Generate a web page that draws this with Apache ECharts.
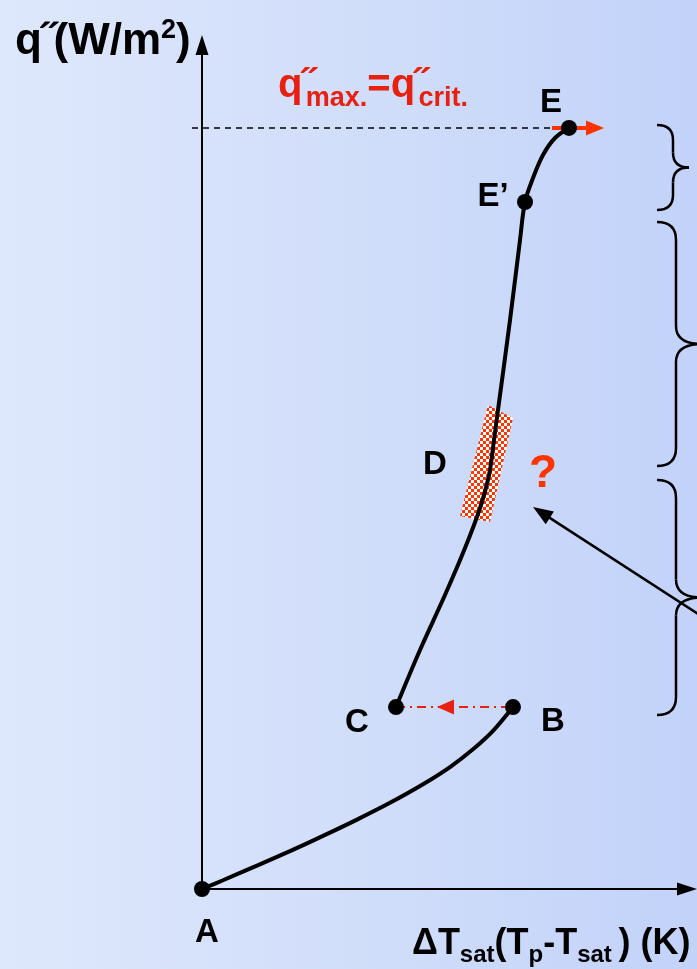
<!DOCTYPE html>
<html><head><meta charset="utf-8">
<script src="https://cdn.jsdelivr.net/npm/echarts@6/dist/echarts.min.js"></script>
<style>html,body{margin:0;padding:0;width:697px;height:969px;overflow:hidden}#c{width:697px;height:969px}</style>
</head><body><div id="c"></div>
<script>
// ---- data: [ΔT_sat, q''] in relative units (0..100 on each axis) ----
const naturalConvection = [[0,0],[4.33,1.04],[11.34,2.77],[18.14,4.49],[24.95,6.29],[31.96,8.22],[38.76,10.21],[45.57,12.41],[51.13,14.45],[55.88,16.55],[60.00,18.73],[64.12,21.56]];
const boilingCurve = [[40.00,21.56],[44.95,28.32],[50.10,34.83],[54.23,40.40],[57.32,45.14],[59.18,49.05],[60.21,53.20],[61.03,56.75],[63.51,67.42],[65.57,76.90],[66.60,81.40],[68.25,84.24],[70.31,86.97],[72.78,88.98],[75.67,90.17]];
const pointNames = ['A','B','C','E\u2019','E'];
const pointCoords = [[0,0],[64.12,21.56],[40.00,21.56],[66.60,81.40],[75.67,90.17]];
const qMaxLine = [[-2.06,90.17],[75.67,90.17]];
const transitionLine = [[40.00,21.56],[64.12,21.56]];
const dryPatch = [[58.97,57.35],[64.12,55.81],[59.38,43.48],[53.20,44.19]];
const dLabel = [48.04,50.24];
const questionMark = [70.31,49.17];
const questionArrow = [[106.8,30.92],[68.25,45.26]];
const critArrow = [[72.16,90.17],[82.89,90.17]];
const transitionArrowHead = [[55.26,21.56],[48.45,21.56]];
const regimeBraces = [[90.52,80.45],[79.03,50.12],[48.46,20.62]];
// ---------------------------------------------------------------

const FONT = '"Liberation Sans", Arial, Helvetica, sans-serif';
const RED = '#e8200f';
const ORANGE = '#ff3300';
const chart = echarts.init(document.getElementById('c'), null, {renderer:'canvas', width:697, height:969});

const pc = document.createElement('canvas'); pc.width = 6; pc.height = 6;
const pg = pc.getContext('2d');
pg.fillStyle = '#ffffff'; pg.fillRect(0,0,6,6);
pg.fillStyle = ORANGE; pg.fillRect(0,0,3,3); pg.fillRect(3,3,3,3);

const mctx = document.createElement('canvas').getContext('2d');
function measure(t, s){ mctx.font = 'bold ' + s + 'px ' + FONT; return mctx.measureText(t).width; }
function textRun(x, baseline, pieces, color){
  const children = []; let cx = x;
  pieces.forEach(function(p){
    const t = p[0], s = p[1], dy = p[2] || 0;
    children.push({type:'text', x:cx, y: baseline - 0.35*s + dy, style:{text:t, font:'bold ' + s + 'px ' + FONT, fill:color, verticalAlign:'middle', align:'left'}});
    cx += measure(t, s) + (p[3] || 0);
  });
  return {type:'group', children: children, z: 20};
}

function arrowSeries(arrows, color, width, headLen, headW, showLine, z, dash){
  return {type:'custom', coordinateSystem:'cartesian2d', clip:false, silent:true, z: z,
    data: arrows.map(function(a){ return [a[0][0],a[0][1],a[1][0],a[1][1]]; }),
    encode: {x:[0,2], y:[1,3]},
    renderItem: function(params, api){
      const p1 = api.coord([api.value(0), api.value(1)]);
      const p2 = api.coord([api.value(2), api.value(3)]);
      const dx = p2[0]-p1[0], dy = p2[1]-p1[1], L = Math.hypot(dx,dy), ux = dx/L, uy = dy/L;
      const bx = p2[0]-ux*headLen, by = p2[1]-uy*headLen;
      const ch = [];
      if (showLine) ch.push({type:'line', shape:{x1:p1[0],y1:p1[1],x2:(headLen ? bx+ux : p2[0]),y2:(headLen ? by+uy : p2[1])}, style:{stroke:color, lineWidth:width, lineDash:dash || null}});
      if (headLen) ch.push({type:'polygon', shape:{points:[[p2[0],p2[1]],[bx-uy*headW/2, by+ux*headW/2],[bx+uy*headW/2, by-ux*headW/2]]}, style:{fill:color}});
      return {type:'group', children: ch};
    }};
}

const labelOffsets = {'A':[5,44], 'B':[40,15], 'C':[-39,16], 'E\u2019':[-32,-5], 'E':[-18,-25]};

const option = {
  animation: false,
  backgroundColor: new echarts.graphic.LinearGradient(0,0,1,0,[{offset:0,color:'#dee8fc'},{offset:0.55,color:'#d0ddfa'},{offset:1,color:'#c2d2f9'}]),
  grid: {left:202, right:10, top:45, bottom:80},
  xAxis: {type:'value', min:0, max:100, axisLine:{show:true, onZero:false, lineStyle:{color:'#000', width:2}, symbol:['none','triangle'], symbolSize:[13,20]}, axisTick:{show:false}, axisLabel:{show:false}, splitLine:{show:false}},
  yAxis: {type:'value', min:0, max:100, axisLine:{show:true, onZero:false, lineStyle:{color:'#000', width:2}, symbol:['none','triangle'], symbolSize:[13,20]}, axisTick:{show:false}, axisLabel:{show:false}, splitLine:{show:false}},
  series: [
    arrowSeries([qMaxLine], '#000', 1.5, 0, 0, true, 2, [6,5]),
    {type:'custom', coordinateSystem:'cartesian2d', clip:false, silent:true, z:3, data:[[dryPatch[0][0],dryPatch[0][1]]],
      renderItem: function(params, api){
        const pts = dryPatch.map(function(p){ return api.coord(p); });
        return {type:'polygon', shape:{points:pts}, style:{fill:{image:pc, repeat:'repeat'}}};
      }},
    arrowSeries([transitionLine], RED, 2, 0, 0, true, 4, [9,5,2,5]),
    arrowSeries([transitionArrowHead], RED, 2, 17, 15, false, 5),
    {type:'line', data:naturalConvection, smooth:0.3, showSymbol:false, silent:true, z:6, lineStyle:{color:'#000', width:4}},
    {type:'line', data:boilingCurve, smooth:0.35, showSymbol:false, silent:true, z:6, lineStyle:{color:'#000', width:4}},
    arrowSeries([critArrow], ORANGE, 4, 18, 15, true, 7),
    {type:'scatter', z:8, silent:true, symbol:'circle', symbolSize:16, itemStyle:{color:'#000', opacity:1},
      data: pointNames.map(function(n,i){ return {name:n, value:pointCoords[i], label:{offset:labelOffsets[n]}}; }),
      label:{show:true, position:'inside', formatter:'{b}', color:'#000', opacity:1, fontSize:33, fontWeight:'bold', fontFamily:FONT}},
    {type:'scatter', z:8, silent:true, symbolSize:0, itemStyle:{opacity:1},
      data:[{name:'D', value:dLabel, label:{color:'#000', fontSize:33}}, {name:'?', value:questionMark, label:{color:ORANGE, fontSize:46}}],
      label:{show:true, position:'inside', formatter:'{b}', opacity:1, fontWeight:'bold', fontFamily:FONT}},
    arrowSeries([questionArrow], '#000', 2.5, 20, 15, true, 9)
  ]
};
chart.setOption(option);

function px(x, y){ return chart.convertToPixel({gridIndex:0}, [x, y]); }
const graphics = [];
const braceStyle = {fill:null, stroke:'#000', lineWidth:2.5};
regimeBraces.forEach(function(b, i){
  const yt = px(0, b[0])[1], yb = px(0, b[1])[1], ym = (yt + yb)/2;
  const xL = 657, xS = i === 0 ? 673 : 676, xT = i === 0 ? 689 : 702, r = i === 0 ? 15 : 18;
  graphics.push({type:'group', z:5, children:[
    {type:'bezierCurve', shape:{x1:xL, y1:yt, cpx1:xS, cpy1:yt, x2:xS, y2:yt + r}, style:braceStyle},
    {type:'line', shape:{x1:xS, y1:yt + r, x2:xS, y2:ym - r}, style:braceStyle},
    {type:'bezierCurve', shape:{x1:xS, y1:ym - r, cpx1:xS, cpy1:ym, x2:xT, y2:ym}, style:braceStyle},
    {type:'bezierCurve', shape:{x1:xT, y1:ym, cpx1:xS, cpy1:ym, x2:xS, y2:ym + r}, style:braceStyle},
    {type:'line', shape:{x1:xS, y1:ym + r, x2:xS, y2:yb - r}, style:braceStyle},
    {type:'bezierCurve', shape:{x1:xS, y1:yb - r, cpx1:xS, cpy1:yb, x2:xL, y2:yb}, style:braceStyle}
  ]});
});
graphics.push(textRun(15, 57, [['q',44],['\u02DD',44,0,-3],['(W/m',44],['2',27,-17],[')',44]], '#000'));
graphics.push(textRun(278, 100, [['q',40],['\u02DD',40,0,-10],['max.',27,8],['=',40],['q',40],['\u02DD',40,0,-10],['crit.',27,8]], RED));
graphics.push(textRun(412, 957, [['\u0394',36],['T',36],['sat',24,7],['(T',36],['p',24,7],['-T',36],['sat ',24,7],[') (K)',36]], '#000'));
chart.setOption({graphic: graphics});
</script>
</body></html>
